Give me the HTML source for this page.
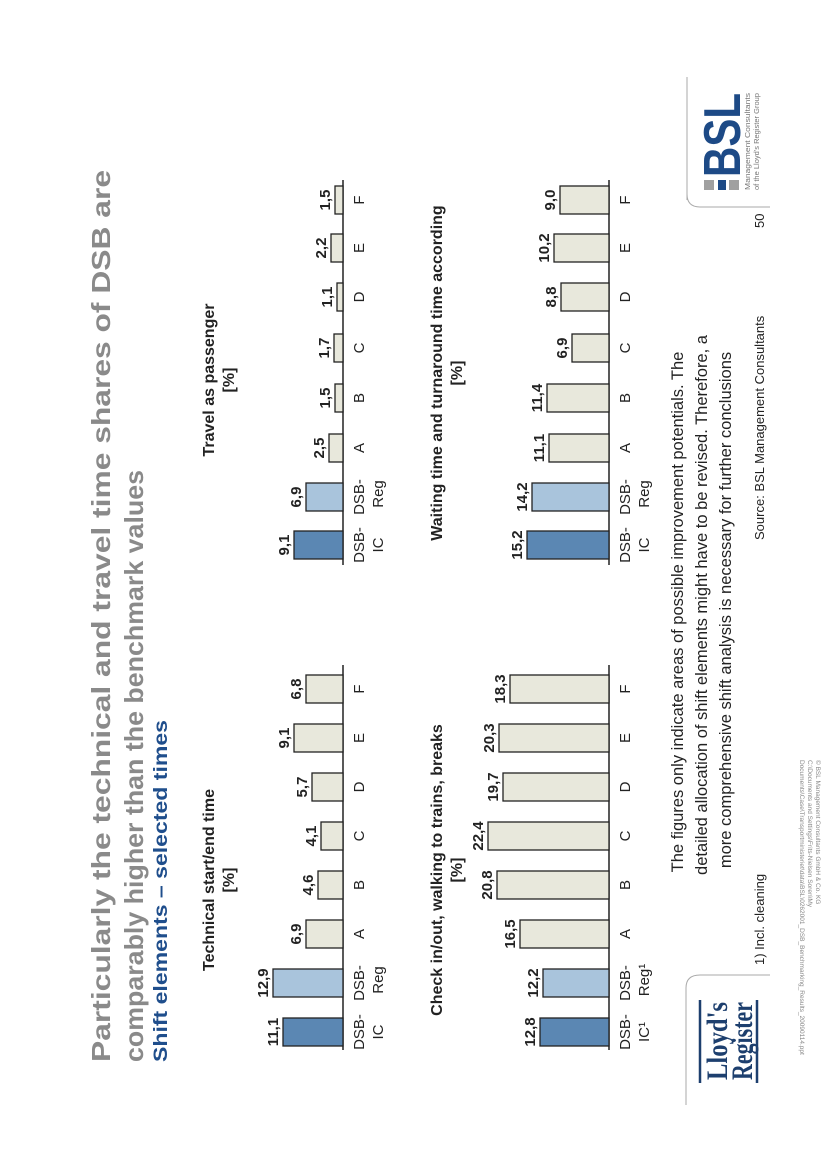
<!DOCTYPE html>
<html><head><meta charset="utf-8"><style>
html,body{margin:0;padding:0;background:#fff;}
svg{display:block;font-family:"Liberation Sans",sans-serif;}
</style></head><body>
<svg width="827" height="1170" viewBox="0 0 827 1170" xmlns="http://www.w3.org/2000/svg">
<g transform="translate(0,1170) rotate(-90)">
<text x="108" y="110" font-size="26" font-weight="bold" fill="#8a8a8a" textLength="892" lengthAdjust="spacingAndGlyphs">Particularly the technical and travel time shares of DSB are</text>
<text x="108" y="143" font-size="26" font-weight="bold" fill="#8a8a8a" textLength="592" lengthAdjust="spacingAndGlyphs">comparably higher than the benchmark values</text>
<text x="108" y="167" font-size="19" font-weight="bold" fill="#1f4e8c" textLength="342" lengthAdjust="spacingAndGlyphs">Shift elements – selected times</text>

<g font-size="16" font-weight="bold" fill="#222" text-anchor="middle">
<text x="290" y="214">Technical start/end time</text><text x="290" y="234">[%]</text>
<text x="790" y="214">Travel as passenger</text><text x="790" y="234">[%]</text>
<text x="300" y="442">Check in/out, walking to trains, breaks</text><text x="300" y="462">[%]</text>
<text x="797" y="442">Waiting time and turnaround time according</text><text x="797" y="462">[%]</text>
</g>

<g stroke="#222" stroke-width="1.5">
<line x1="120" y1="343" x2="505" y2="343"/>
<line x1="605" y1="343" x2="990" y2="343"/>
<line x1="120" y1="609" x2="505" y2="609"/>
<line x1="605" y1="609" x2="990" y2="609"/>
</g>

<g stroke="#222" stroke-width="1.3">
<rect x="124" y="283" width="28" height="60" fill="#5b87b3"/>
<rect x="173" y="273" width="28" height="70" fill="#a9c4dc"/>
<rect x="222" y="306" width="28" height="37" fill="#e8e8dc"/>
<rect x="271" y="318" width="28" height="25" fill="#e8e8dc"/>
<rect x="320" y="321" width="28" height="22" fill="#e8e8dc"/>
<rect x="369" y="312" width="28" height="31" fill="#e8e8dc"/>
<rect x="418" y="294" width="28" height="49" fill="#e8e8dc"/>
<rect x="467" y="306" width="28" height="37" fill="#e8e8dc"/>
<rect x="611" y="294" width="28" height="49" fill="#5b87b3"/>
<rect x="659" y="306" width="28" height="37" fill="#a9c4dc"/>
<rect x="708" y="329" width="28" height="14" fill="#e8e8dc"/>
<rect x="758" y="335" width="28" height="8" fill="#e8e8dc"/>
<rect x="808" y="334" width="28" height="9" fill="#e8e8dc"/>
<rect x="859" y="337" width="28" height="6" fill="#e8e8dc"/>
<rect x="908" y="331" width="28" height="12" fill="#e8e8dc"/>
<rect x="956" y="335" width="28" height="8" fill="#e8e8dc"/>
<rect x="124" y="540" width="28" height="69" fill="#5b87b3"/>
<rect x="173" y="543" width="28" height="66" fill="#a9c4dc"/>
<rect x="222" y="520" width="28" height="89" fill="#e8e8dc"/>
<rect x="271" y="497" width="28" height="112" fill="#e8e8dc"/>
<rect x="320" y="488" width="28" height="121" fill="#e8e8dc"/>
<rect x="369" y="503" width="28" height="106" fill="#e8e8dc"/>
<rect x="418" y="499" width="28" height="110" fill="#e8e8dc"/>
<rect x="467" y="510" width="28" height="99" fill="#e8e8dc"/>
<rect x="611" y="527" width="28" height="82" fill="#5b87b3"/>
<rect x="659" y="532" width="28" height="77" fill="#a9c4dc"/>
<rect x="708" y="549" width="28" height="60" fill="#e8e8dc"/>
<rect x="758" y="547" width="28" height="62" fill="#e8e8dc"/>
<rect x="808" y="572" width="28" height="37" fill="#e8e8dc"/>
<rect x="859" y="561" width="28" height="48" fill="#e8e8dc"/>
<rect x="908" y="554" width="28" height="55" fill="#e8e8dc"/>
<rect x="956" y="560" width="28" height="49" fill="#e8e8dc"/>
</g>

<g font-size="15" font-weight="bold" fill="#222" text-anchor="middle">
<text x="138" y="278">11,1</text><text x="187" y="268">12,9</text><text x="236" y="301">6,9</text><text x="285" y="313">4,6</text><text x="334" y="316">4,1</text><text x="383" y="307">5,7</text><text x="432" y="289">9,1</text><text x="481" y="301">6,8</text>
<text x="625" y="289">9,1</text><text x="673" y="301">6,9</text><text x="722" y="324">2,5</text><text x="772" y="330">1,5</text><text x="822" y="329">1,7</text><text x="873" y="332">1,1</text><text x="922" y="326">2,2</text><text x="970" y="330">1,5</text>
<text x="138" y="535">12,8</text><text x="187" y="538">12,2</text><text x="236" y="515">16,5</text><text x="285" y="492">20,8</text><text x="334" y="483">22,4</text><text x="383" y="498">19,7</text><text x="432" y="494">20,3</text><text x="481" y="505">18,3</text>
<text x="625" y="522">15,2</text><text x="673" y="527">14,2</text><text x="722" y="544">11,1</text><text x="772" y="542">11,4</text><text x="822" y="567">6,9</text><text x="873" y="556">8,8</text><text x="922" y="549">10,2</text><text x="970" y="555">9,0</text>
</g>

<g font-size="15" fill="#222" text-anchor="middle">
<text x="138" y="364">DSB-</text><text x="138" y="383">IC</text><text x="187" y="364">DSB-</text><text x="190" y="383">Reg</text>
<text x="236" y="364">A</text><text x="285" y="364">B</text><text x="334" y="364">C</text><text x="383" y="364">D</text><text x="432" y="364">E</text><text x="481" y="364">F</text>
<text x="625" y="364">DSB-</text><text x="625" y="383">IC</text><text x="673" y="364">DSB-</text><text x="676" y="383">Reg</text>
<text x="722" y="364">A</text><text x="772" y="364">B</text><text x="822" y="364">C</text><text x="873" y="364">D</text><text x="922" y="364">E</text><text x="970" y="364">F</text>
<text x="138" y="630">DSB-</text><text x="138" y="649">IC¹</text><text x="187" y="630">DSB-</text><text x="190" y="649">Reg¹</text>
<text x="236" y="630">A</text><text x="285" y="630">B</text><text x="334" y="630">C</text><text x="383" y="630">D</text><text x="432" y="630">E</text><text x="481" y="630">F</text>
<text x="625" y="630">DSB-</text><text x="625" y="649">IC</text><text x="673" y="630">DSB-</text><text x="676" y="649">Reg</text>
<text x="722" y="630">A</text><text x="772" y="630">B</text><text x="822" y="630">C</text><text x="873" y="630">D</text><text x="922" y="630">E</text><text x="970" y="630">F</text>
</g>

<g font-size="16.5" fill="#222" text-anchor="middle">
<text x="558" y="683">The figures only indicate areas of possible improvement potentials. The</text>
<text x="565" y="707">detailed allocation of shift elements might have to be revised. Therefore, a</text>
<text x="560" y="731">more comprehensive shift analysis is necessary for further conclusions</text>
</g>
<text x="205" y="764" font-size="13" fill="#222">1) Incl. cleaning</text>
<text x="630" y="764" font-size="13" fill="#222">Source: BSL Management Consultants</text>
<text x="942" y="764" font-size="13" fill="#222">50</text>

<path d="M970 687 L1093 687 M963 770 L963 700 Q963 687 976 687" stroke="#aaa" fill="none" stroke-width="1"/>
<rect x="980" y="704" width="10" height="10" fill="#a0a0a0"/>
<rect x="980" y="718" width="10" height="8" fill="#1d4a86"/>
<rect x="980" y="729" width="10" height="10" fill="#a0a0a0"/>
<text x="993" y="740" font-size="52" font-weight="bold" fill="#1d4a86" textLength="84" lengthAdjust="spacingAndGlyphs">BSL</text>
<text x="980" y="750" font-size="7" fill="#777" textLength="97" lengthAdjust="spacingAndGlyphs">Management Consultants</text>
<text x="980" y="759" font-size="7" fill="#777" textLength="97" lengthAdjust="spacingAndGlyphs">of the Lloyd's Register Group</text>

<path d="M65 686 L182 686 M195 770 L195 700 Q195 686 182 686" stroke="#aaa" fill="none" stroke-width="1"/>
<line x1="87" y1="700" x2="170" y2="700" stroke="#1d3f6e" stroke-width="2.5"/>
<line x1="87" y1="757" x2="170" y2="757" stroke="#1d3f6e" stroke-width="2.5"/>
<text x="90" y="727" font-size="30" font-weight="bold" fill="#1d3f6e" font-family="Liberation Serif,serif" textLength="78" lengthAdjust="spacingAndGlyphs">Lloyd's</text>
<text x="90" y="752" font-size="30" font-weight="bold" fill="#1d3f6e" font-family="Liberation Serif,serif" textLength="78" lengthAdjust="spacingAndGlyphs">Register</text>

<g transform="rotate(180 240 809)" font-size="6.5" fill="#888">
<text x="70" y="802">© BSL Management Consultants GmbH &amp; Co. KG</text>
<text x="70" y="810">C:\Documents and Settings\Frits-Nielsen Soren\My</text>
<text x="70" y="818">Documents\Case\Transportministeriet\data\BSL\0262001_DSB_Benchmarking_Results_20090114.ppt</text>
</g>
</g>
</svg>
</body></html>
